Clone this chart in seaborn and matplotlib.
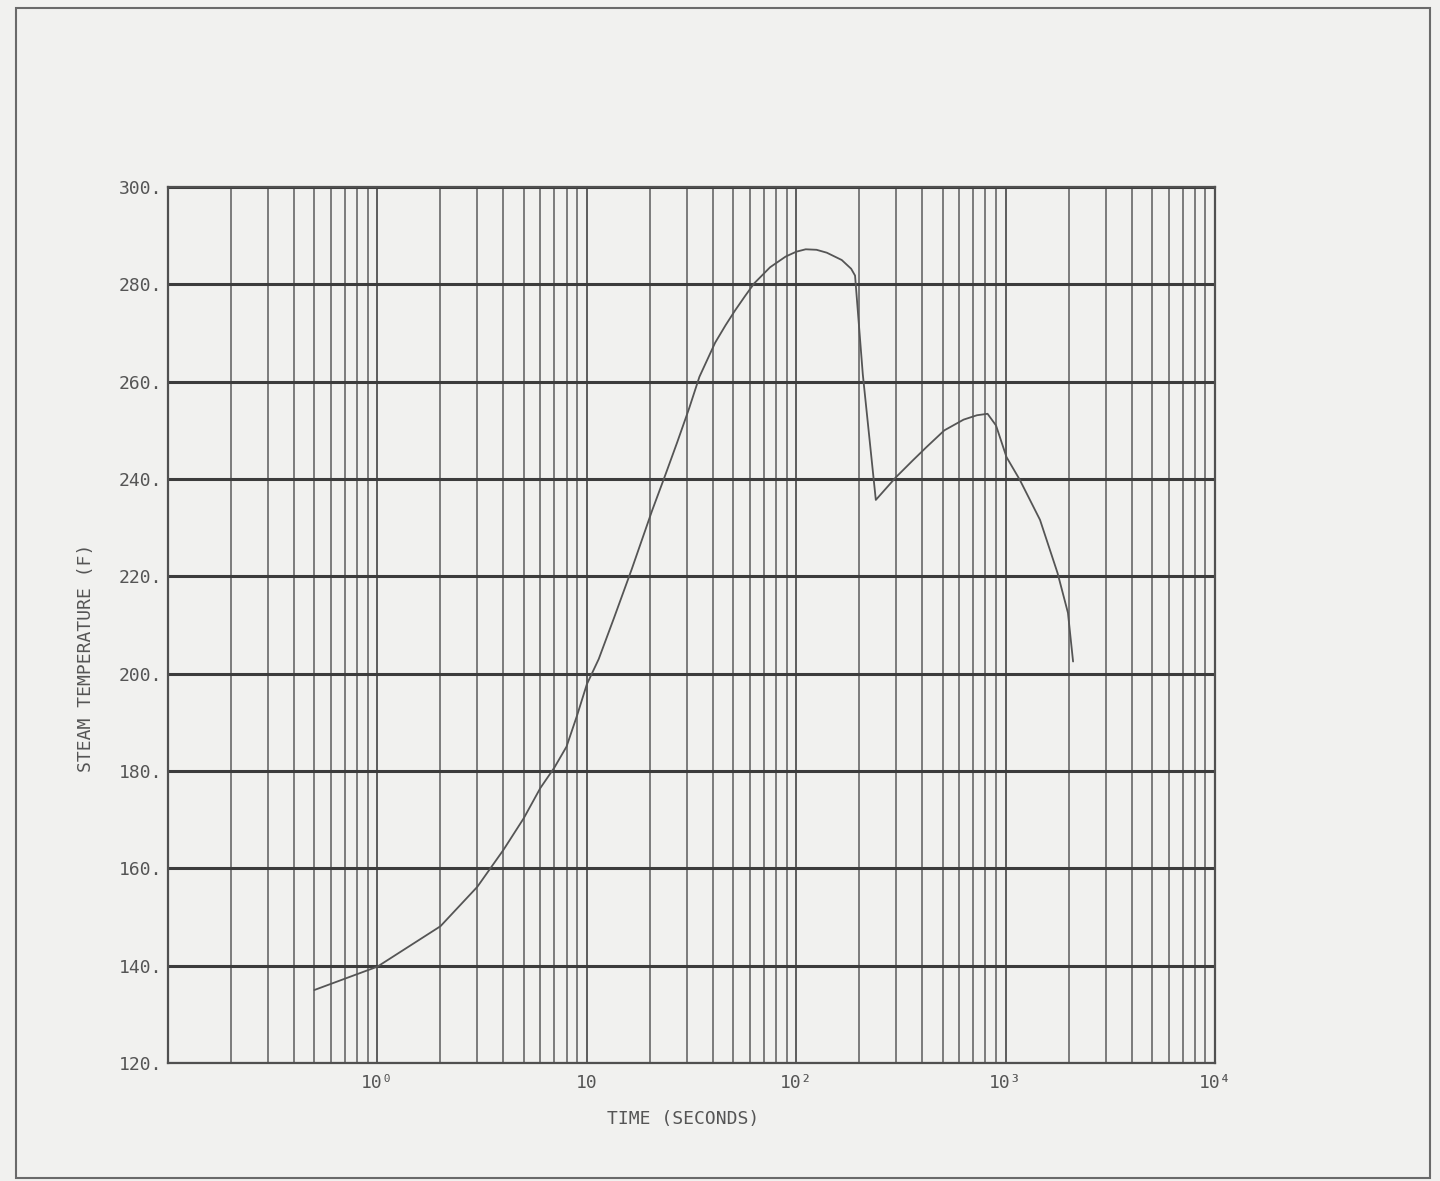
import numpy as np
import pandas as pd
import matplotlib
matplotlib.use("Agg")
import matplotlib.pyplot as plt
import seaborn as sns
from matplotlib.patches import Rectangle
from matplotlib.ticker import FixedLocator, FixedFormatter, NullFormatter

# ---- data ----
time_s = [0.5, 1, 2, 3, 4, 5, 6, 7, 8, 9, 10, 11.4, 13.5, 16.4, 20.5, 23.7, 27, 30.8,
          34.5, 41, 46, 51, 57, 63, 75, 89, 100, 111, 125, 140, 165, 183, 191, 208,
          240, 300, 360, 420, 510, 630, 730, 820, 900, 1010, 1170, 1460, 1770, 1985,
          2100]
steam_temp = [135.0, 139.8, 148.1, 156.2, 163.8, 170.3, 176.5, 180.7, 185.0, 191.5,
              197.8, 203.0, 211.5, 221.5, 233.5, 240.8, 247.5, 254.5, 261.0, 268.0,
              271.6, 274.6, 277.6, 280.2, 283.5, 285.7, 286.7, 287.2, 287.1, 286.5,
              285.0, 283.2, 281.8, 261.5, 235.7, 240.4, 243.8, 246.6, 250.0, 252.2,
              253.1, 253.4, 251.0, 244.5, 239.8, 231.6, 220.7, 212.5, 202.5]

y_ticks = [120, 140, 160, 180, 200, 220, 240, 260, 280, 300]
y_tick_labels = ["120.", "140.", "160.", "180.", "200.", "220.", "240.", "260.", "280.", "300."]
x_major = [0.1, 1, 10, 100, 1000, 10000]
x_major_labels = ["", "10\u2070", "10", "10\u00b2", "10\u00b3", "10\u2074"]
x_label = "TIME (SECONDS)"
y_label = "STEAM TEMPERATURE (F)"

df = pd.DataFrame({"time": time_s, "temp": steam_temp})

sns.set_theme(style="white")
plt.rcParams['font.family'] = ['DejaVu Sans Mono', 'DejaVu Sans']

bg = "#f1f1ef"
ink = "#505050"

fig = plt.figure(figsize=(14.4, 11.81), dpi=100, facecolor=bg)
ax = fig.add_axes([168/1440, 1 - 1063/1181, (1215-168)/1440, (1063-187)/1181])
ax.set_facecolor(bg)

ax.set_xscale("log")
ax.set_xlim(0.1, 10000)
ax.set_ylim(120, 300)

# grid lines: vertical at every log subdivision, horizontal every 20
minor_pos = [m * 10.0**e for e in range(-1, 4) for m in range(2, 10)]
ax.xaxis.set_major_locator(FixedLocator(x_major))
ax.xaxis.set_major_formatter(FixedFormatter(x_major_labels))
ax.xaxis.set_minor_locator(FixedLocator(minor_pos))
ax.xaxis.set_minor_formatter(NullFormatter())
ax.set_yticks(y_ticks)
ax.set_yticklabels(y_tick_labels)

ax.grid(True, which="major", axis="x", color=ink, linewidth=1.3)
ax.grid(True, which="minor", axis="x", color="#5c5c5c", linewidth=1.1)
ax.grid(True, which="major", axis="y", color="#3c3c3c", linewidth=2.2)
ax.tick_params(axis="both", which="both", length=0, colors="#555555", labelsize=13)
ax.tick_params(axis="x", pad=8)
ax.tick_params(axis="y", pad=4)

for s in ax.spines.values():
    s.set_color(ink)
    s.set_linewidth(1.6)

sns.lineplot(data=df, x="time", y="temp", ax=ax, color="#555555", linewidth=1.3,
             estimator=None, sort=False)

ax.set_xlabel(x_label, fontsize=13, color="#555555")
ax.set_ylabel(y_label, fontsize=13, color="#555555")
ax.xaxis.set_label_coords(0.492, -0.054)
ax.yaxis.set_label_coords(-0.07, 0.463)

# outer frame of the page
fig.patches.append(Rectangle((16/1440, 3/1181), (1430-16)/1440, (1173-3)/1181,
                             transform=fig.transFigure, fill=False,
                             edgecolor="#6a6a6a", linewidth=1.5))

fig.savefig("out.png", dpi=100, facecolor=bg)
